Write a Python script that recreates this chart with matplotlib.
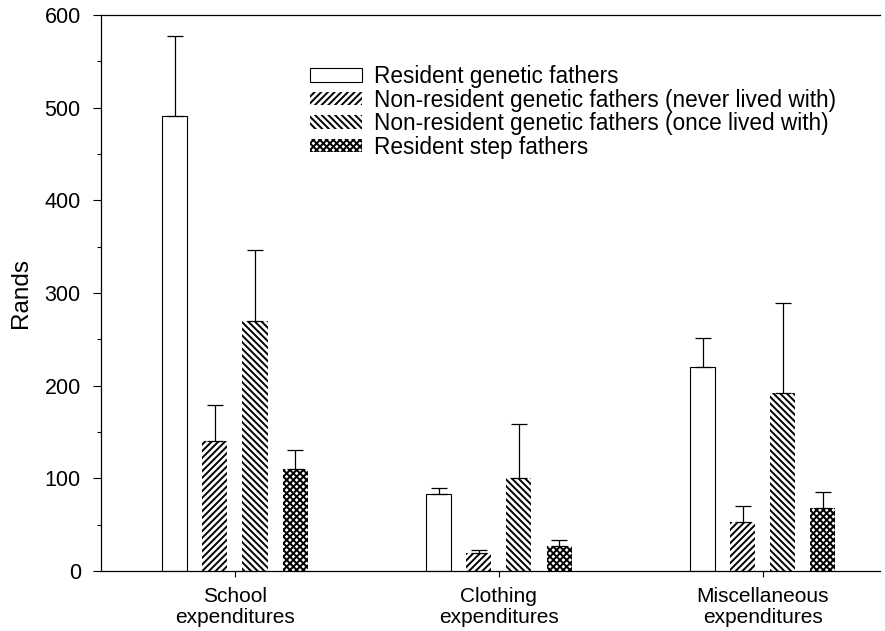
import numpy as np
import matplotlib
matplotlib.use("Agg")
import matplotlib.pyplot as plt

plt.rcParams['font.family'] = ['Liberation Sans', 'DejaVu Sans']
plt.rcParams['hatch.linewidth'] = 1.4

categories = ["School\nexpenditures", "Clothing\nexpenditures", "Miscellaneous\nexpenditures"]
series = ["Resident genetic fathers",
          "Non-resident genetic fathers (never lived with)",
          "Non-resident genetic fathers (once lived with)",
          "Resident step fathers"]
means = [
    [491, 83, 220],   # resident genetic
    [140, 19, 53],    # non-resident never lived with
    [270, 100, 192],  # non-resident once lived with
    [110, 27, 68],    # resident step
]
err_up = [
    [87, 7, 32],
    [39, 4, 17],
    [77, 59, 97],
    [21, 6, 17],
]
hatches = ["", "/////", "\\\\\\\\\\", "xxxxx"]

fig = plt.figure(figsize=(8.85, 6.31), dpi=100)
ax = fig.add_axes([0.114, 0.095, 0.88, 0.881])

x = np.arange(len(categories))
step = 0.152
width = 0.095
for i, name in enumerate(series):
    pos = x + (i - 1.5) * step
    m = np.array(means[i])
    e = np.array(err_up[i])
    lw = 0.8 if hatches[i] == "" else 0
    ax.bar(pos, m, width, color="white", edgecolor="black", linewidth=lw,
           hatch=hatches[i], label=name, zorder=2)
    ax.errorbar(pos, m, yerr=[np.zeros_like(e), e], fmt="none", ecolor="black",
                elinewidth=0.9, capsize=6, capthick=0.9, zorder=3)

ax.set_xlim(-0.508, 2.443)
ax.set_ylim(0, 600)
ax.set_yticks(np.arange(0, 601, 100))
ax.set_yticks(np.arange(50, 600, 100), minor=True)
ax.set_xticks(x)
ax.set_xticklabels(categories, fontsize=15, linespacing=1.1)
ax.tick_params(axis="y", which="major", labelsize=15.5, length=6, width=0.8, pad=8.5)
ax.tick_params(axis="y", which="minor", length=3, width=0.8)
ax.tick_params(axis="x", length=4.5, width=0.8, pad=7)
ax.spines["right"].set_visible(False)
for s in ["left", "bottom", "top"]:
    ax.spines[s].set_linewidth(0.9)
ax.set_ylabel("Rands", fontsize=17.5, labelpad=9)

ax.legend(loc="upper left", bbox_to_anchor=(0.268, 0.91), frameon=False,
          fontsize=16.3, borderpad=0, handlelength=2.3, handleheight=0.55,
          handletextpad=0.55, labelspacing=0.02, borderaxespad=0)

fig.savefig("out.png", dpi=100)
